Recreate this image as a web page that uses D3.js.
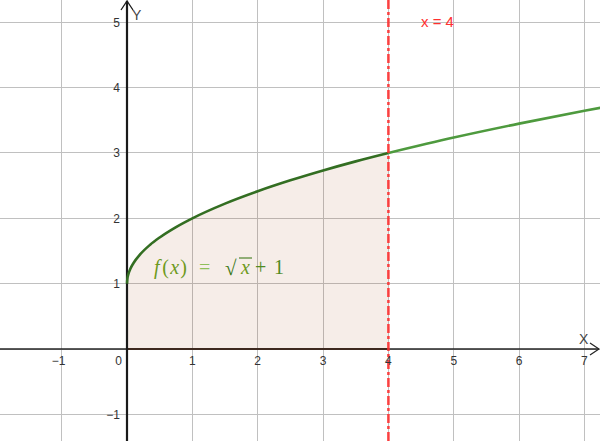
<!DOCTYPE html>
<html><head><meta charset="utf-8">
<script src="https://cdn.jsdelivr.net/npm/d3@7"></script>
<style>html,body{margin:0;padding:0;background:#fff;}svg{display:block;}</style>
</head><body>
<svg id="c" width="600" height="441"></svg>
<script>
// Data
const xTicks = [-1, 1, 2, 3, 4, 5, 6, 7];
const yTicks = [-1, 1, 2, 3, 4, 5];
const xGrid = [-1, 0, 1, 2, 3, 4, 5, 6, 7];
const yGrid = [-1, 0, 1, 2, 3, 4, 5];
const curveX = [0, 0.005, 0.02, 0.05, 0.1, 0.2, 0.35, 0.5, 0.75, 1, 1.5, 2, 2.5, 3, 3.5, 4, 5, 6, 7, 7.3];
const curveY = [1, 1.071, 1.141, 1.224, 1.316, 1.447, 1.592, 1.707, 1.866, 2, 2.225, 2.414, 2.581, 2.732, 2.871, 3, 3.236, 3.449, 3.646, 3.702];
const lineX = 4;
const regionFrom = 0, regionTo = 4;
const lineLabel = "x = 4";

const W = 600, H = 441, unit = 65.35, ox = 127, oy = 349;
const x = d3.scaleLinear().domain([-ox / unit, (W - ox) / unit]).range([0, W]);
const y = d3.scaleLinear().domain([-(H - oy) / unit, oy / unit]).range([H, 0]);
const svg = d3.select("#c");

// grid
svg.append("g").selectAll("line").data(xGrid).join("line")
  .attr("x1", d => x(d)).attr("x2", d => x(d)).attr("y1", 0).attr("y2", H)
  .attr("stroke", "#c0c0c0").attr("stroke-width", 1).attr("shape-rendering", "crispEdges");
svg.append("g").selectAll("line").data(yGrid).join("line")
  .attr("y1", d => y(d)).attr("y2", d => y(d)).attr("x1", 0).attr("x2", W)
  .attr("stroke", "#c0c0c0").attr("stroke-width", 1).attr("shape-rendering", "crispEdges");

const pts = curveX.map((v, i) => [v, curveY[i]]);
const regionPts = pts.filter(p => p[0] >= regionFrom && p[0] <= regionTo);

// region
const area = d3.area().x(d => x(d[0])).y0(y(0)).y1(d => y(d[1])).curve(d3.curveMonotoneX);
svg.append("path").datum(regionPts).attr("d", area)
  .attr("fill", "#993300").attr("fill-opacity", 0.09).attr("stroke", "none");

// bottom edge of region
svg.append("line").attr("x1", x(regionFrom)).attr("x2", x(regionTo)).attr("y1", y(0)).attr("y2", y(0))
  .attr("stroke", "#8a3a10").attr("stroke-width", 2);

// axes
svg.append("line").attr("x1", 0).attr("x2", W - 1).attr("y1", y(0)).attr("y2", y(0))
  .attr("stroke", "#252525").attr("stroke-width", 1.6);
svg.append("line").attr("x1", x(0)).attr("x2", x(0)).attr("y1", 1).attr("y2", H)
  .attr("stroke", "#1a1a1a").attr("stroke-width", 2.2);
// arrowheads
svg.append("path").attr("d", `M${W - 10},${y(0) - 6}L${W - 1},${y(0)}L${W - 10},${y(0) + 6}`)
  .attr("fill", "none").attr("stroke", "#252525").attr("stroke-width", 1.3);
svg.append("path").attr("d", `M${x(0) - 6},10L${x(0)},1L${x(0) + 6},10`)
  .attr("fill", "none").attr("stroke", "#1a1a1a").attr("stroke-width", 1.3);

// curve
const line = d3.line().x(d => x(d[0])).y(d => y(d[1])).curve(d3.curveMonotoneX);
svg.append("path").datum(pts.filter(p => p[0] >= regionTo)).attr("d", line)
  .attr("fill", "none").attr("stroke", "#4e9a3e").attr("stroke-width", 2.6);
svg.append("path").datum(regionPts).attr("d", line)
  .attr("fill", "none").attr("stroke", "#336e22").attr("stroke-width", 2.6);

// vertical dashed line
svg.append("line").attr("x1", x(lineX)).attr("x2", x(lineX)).attr("y1", 0).attr("y2", H)
  .attr("stroke", "#ff2a2a").attr("stroke-opacity", 0.85).attr("stroke-width", 2.6)
  .attr("stroke-dasharray", "9,3,3,3");

// tick labels
const font = "Liberation Sans, Arial, sans-serif";
svg.append("g").selectAll("text").data(xTicks).join("text")
  .attr("x", d => x(d) + (d < 0 ? -3 : 0)).attr("y", y(0) + 16)
  .attr("text-anchor", "middle").attr("font-family", font).attr("font-size", 12).attr("fill", "#333")
  .text(d => d < 0 ? "\u2212" + Math.abs(d) : d);
svg.append("g").selectAll("text").data(yTicks).join("text")
  .attr("x", x(0) - 7).attr("y", d => y(d) + 4.5)
  .attr("text-anchor", "end").attr("font-family", font).attr("font-size", 12).attr("fill", "#333")
  .text(d => d < 0 ? "\u2212" + Math.abs(d) : d);
svg.append("text").attr("x", x(0) - 5).attr("y", y(0) + 16).attr("text-anchor", "end")
  .attr("font-family", font).attr("font-size", 12).attr("fill", "#333").text("0");

// axis labels
svg.append("text").attr("x", x(0) + 5).attr("y", 20).attr("font-family", font).attr("font-size", 14)
  .attr("fill", "#444").text("Y");
svg.append("text").attr("x", 579).attr("y", y(0) - 5).attr("font-family", font).attr("font-size", 14)
  .attr("fill", "#444").text("X");

// x = 4 label
svg.append("text").attr("x", 421).attr("y", 27).attr("font-family", font).attr("font-size", 15)
  .attr("fill", "#ff3030").text(lineLabel);

// formula label (LaTeX-like layout)
const serif = "Liberation Serif, DejaVu Serif, serif";
const fg = svg.append("g").attr("font-family", serif).attr("font-size", 20);
const base = 274;
const t1 = fg.append("text").attr("x", 154).attr("y", base).attr("fill", "#6e9a1c").attr("letter-spacing", 1.2);
t1.append("tspan").attr("font-style", "italic").text("f");
t1.append("tspan").attr("dx", 1.5).text("(");
t1.append("tspan").attr("font-style", "italic").text("x");
t1.append("tspan").text(")");
fg.append("text").attr("x", 199).attr("y", base).attr("fill", "#8fbf5a").text("=");
fg.append("text").attr("x", 225).attr("y", base + 1).attr("fill", "#3f7a1a").attr("font-size", 21).text("\u221A");
fg.append("line").attr("x1", 239).attr("x2", 252).attr("y1", base - 16).attr("y2", base - 16)
  .attr("stroke", "#3f7a1a").attr("stroke-width", 1.1);
fg.append("text").attr("x", 241).attr("y", base).attr("fill", "#6e9a1c").attr("font-style", "italic").text("x");
fg.append("text").attr("x", 255).attr("y", base).attr("fill", "#4f8a22").text("+");
fg.append("text").attr("x", 274).attr("y", base).attr("fill", "#4f8a22").text("1");
</script>
</body></html>
